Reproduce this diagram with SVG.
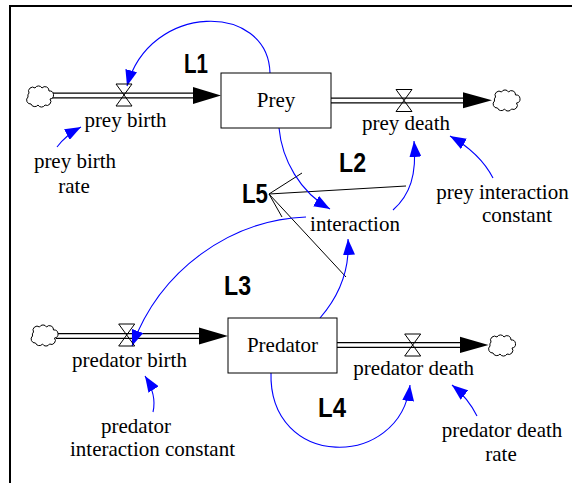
<svg xmlns="http://www.w3.org/2000/svg" width="572" height="483" viewBox="0 0 572 483">
<style>
.lbl{font-family:"Liberation Serif","Times New Roman",serif;font-size:21px;fill:#000;text-anchor:middle}
.loop{font-family:"Liberation Sans",Arial,sans-serif;font-weight:bold;font-size:28px;fill:#000}
.stock{fill:#fff;stroke:#000;stroke-width:1}
.pipeo{stroke:#000;stroke-width:6;fill:none}
.pipei{stroke:#fff;stroke-width:3.4;fill:none}
.valve{fill:none;stroke:#000;stroke-width:1}
.cloud{fill:#fff;stroke:#000;stroke-width:1}
.link{fill:none;stroke:#0000ff;stroke-width:1.1;marker-end:url(#ah)}
.l5{stroke:#000;stroke-width:1;fill:none}
</style>
<defs>
<marker id="ah" markerUnits="userSpaceOnUse" markerWidth="18" markerHeight="12" refX="16" refY="6" orient="auto">
<path d="M0,0 L16,6 L0,12 Z" fill="#0000ff"/>
</marker>
<path id="cl" d="M-10,-4 a4,4 0 0 1 6,-5 a4,4 0 0 1 7,0 a4,4 0 0 1 7,3 a4,4 0 0 1 1,8 a4,4 0 0 1 -5,6 a4,4 0 0 1 -7,0 a4,4 0 0 1 -7,-1 a4,4 0 0 1 -3,-7 a4,4 0 0 1 1,-4z"/>
<path id="vl" d="M-8,-11 L8,-11 L-8,11 L8,11 Z"/>
</defs>

<g id="frame">
<path d="M10,483 L10,6 L572,6" fill="none" stroke="#000" stroke-width="2"/>
</g>

<g id="connectors">
<!-- flows -->
<path class="pipeo" d="M51,95.5 L195,95.5"/><path class="pipei" d="M50,95.5 L196,95.5"/>
<polygon points="193,87 221,95.5 193,104" fill="#000"/>
<path class="pipeo" d="M331,100.5 L465,100.5"/><path class="pipei" d="M331,100.5 L466,100.5"/>
<polygon points="463,92.3 492,100.3 463,108.3" fill="#000"/>
<path class="pipeo" d="M56,336 L201,336"/><path class="pipei" d="M55,336 L202,336"/>
<polygon points="199,327.5 228,336 199,344.5" fill="#000"/>
<path class="pipeo" d="M337,345 L462,345"/><path class="pipei" d="M337,345 L463,345"/>
<polygon points="460,336.8 488.5,345 460,353" fill="#000"/>
<!-- L5 lines -->
<path class="l5" d="M269,194 L302,173 M269,194 L406,186 M269,194 L282,217 M269,194 L346,277"/>
<!-- information links -->
<path class="link" d="M270,73 C268,2 150,2 127,86"/>
<path class="link" d="M279,128 C282,160 300,192 330,209"/>
<path class="link" d="M393,210 C410,195 417,175 414,141"/>
<path class="link" d="M306,217 C230,220 160,270 132,346"/>
<path class="link" d="M320,318 C340,295 350,270 348,239"/>
<path class="link" d="M271,372 C268,470 400,470 410,385"/>
<path class="link" d="M57,147 Q66,135 81,127"/>
<path class="link" d="M493,178 Q480,153 450,136"/>
<path class="link" d="M153,412 Q157,395 145,376"/>
<path class="link" d="M477,416 Q468,398 452,385"/>
</g>

<g id="prey-source"><use href="#cl" class="cloud" x="39" y="97"/></g>
<g id="prey-sink"><use href="#cl" class="cloud" x="505.5" y="101"/></g>
<g id="predator-source"><use href="#cl" class="cloud" x="43.5" y="336"/></g>
<g id="predator-sink"><use href="#cl" class="cloud" x="501" y="346"/></g>

<g id="prey"><rect class="stock" x="221" y="73" width="110" height="55"/><text class="lbl" x="276" y="107">Prey</text></g>
<g id="predator"><rect class="stock" x="228" y="318" width="109" height="55"/><text class="lbl" x="282.5" y="352">Predator</text></g>

<g id="prey-birth"><use href="#vl" class="valve" x="124" y="95"/><text class="lbl" x="125.5" y="127">prey birth</text></g>
<g id="prey-death"><use href="#vl" class="valve" x="404" y="100.5"/><text class="lbl" x="406" y="130">prey death</text></g>
<g id="predator-birth"><use href="#vl" class="valve" x="126.7" y="335"/><text class="lbl" x="129.5" y="367">predator birth</text></g>
<g id="predator-death"><use href="#vl" class="valve" x="412.7" y="345"/><text class="lbl" x="413.7" y="375">predator death</text></g>

<g id="prey-birth-rate"><text class="lbl" x="75" y="168">prey birth</text><text class="lbl" x="74" y="192.5">rate</text></g>
<g id="interaction"><text class="lbl" x="355" y="230.5">interaction</text></g>
<g id="prey-interaction-constant"><text class="lbl" x="502.5" y="199">prey interaction</text><text class="lbl" x="517" y="221.5">constant</text></g>
<g id="predator-interaction-constant"><text class="lbl" x="136" y="432.5">predator</text><text class="lbl" x="152.5" y="456">interaction constant</text></g>
<g id="predator-death-rate"><text class="lbl" x="502" y="437">predator death</text><text class="lbl" x="501" y="460.5">rate</text></g>

<g id="loops">
<text class="loop" x="184" y="73" textLength="24" lengthAdjust="spacingAndGlyphs">L1</text>
<text class="loop" x="339" y="172" textLength="27" lengthAdjust="spacingAndGlyphs">L2</text>
<text class="loop" x="224" y="295" textLength="27" lengthAdjust="spacingAndGlyphs">L3</text>
<text class="loop" x="318" y="417" textLength="28" lengthAdjust="spacingAndGlyphs">L4</text>
<text class="loop" x="242" y="203" textLength="26" lengthAdjust="spacingAndGlyphs">L5</text>
</g>
</svg>
